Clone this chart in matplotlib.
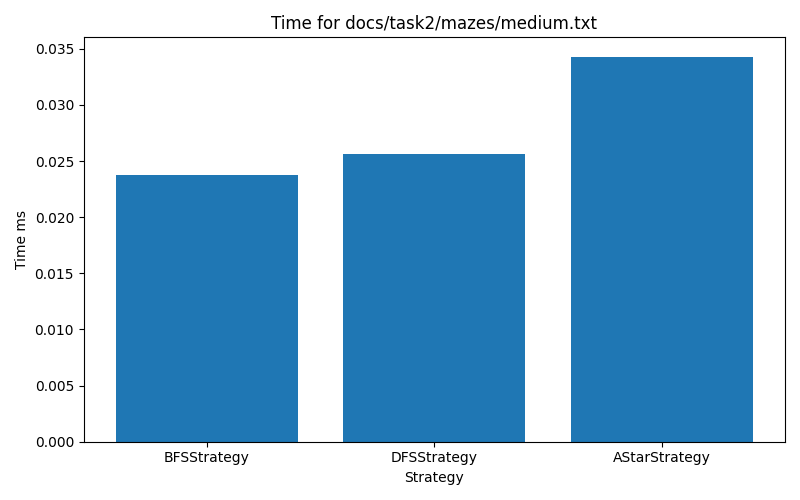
import matplotlib
matplotlib.use("Agg")
import matplotlib.pyplot as plt

strategies = ["BFSStrategy", "DFSStrategy", "AStarStrategy"]
times = [0.02378, 0.02566, 0.03430]

fig, ax = plt.subplots(figsize=(8, 5), dpi=100)
ax.bar(strategies, times, color="#1f77b4")
ax.set_title("Time for docs/task2/mazes/medium.txt")
ax.set_xlabel("Strategy")
ax.set_ylabel("Time ms")
fig.tight_layout()
fig.savefig("out.png")
